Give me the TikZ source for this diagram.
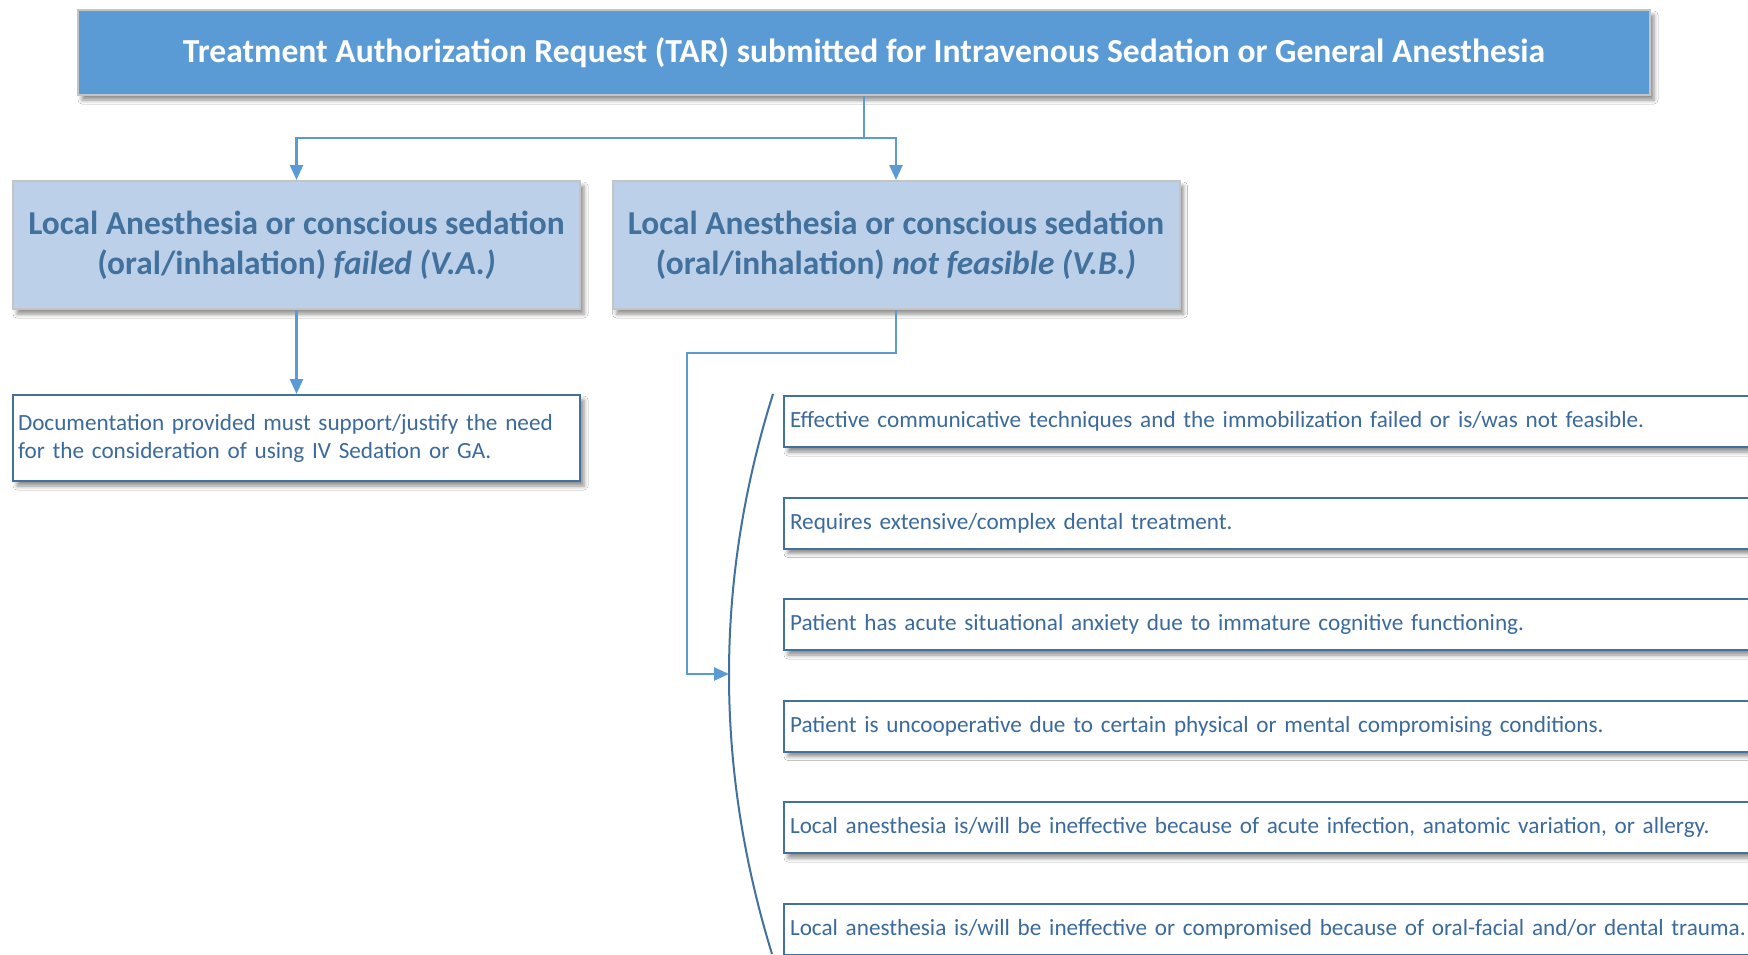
\documentclass[tikz,border=0pt]{standalone}
\usepackage{fontspec}
\setmainfont{Carlito}
\usetikzlibrary{arrows.meta,shadows.blur}
\definecolor{topblue}{HTML}{5B9BD5}
\definecolor{midfill}{HTML}{BDD0E9}
\definecolor{darkblue}{HTML}{41719C}
\definecolor{txtblue}{HTML}{3B6A9C}
\definecolor{boxgray}{HTML}{C4C4C4}
\begin{document}
\begin{tikzpicture}[x=1pt,y=-1pt,
  softshadow/.style={blur shadow={shadow xshift=4pt, shadow yshift=-5pt, shadow blur radius=4pt, shadow opacity=45}},
  topbox/.style={draw=boxgray, line width=2pt, fill=topblue, text=white,
    font=\fontsize{33.6}{40}\selectfont\bfseries, minimum width=1572pt, minimum height=85pt,
    inner sep=0pt, softshadow},
  midbox/.style={draw=boxgray, line width=2pt, fill=midfill, text=darkblue,
    font=\fontsize{33.4}{40}\selectfont\bfseries, minimum width=567pt, minimum height=128pt,
    align=center, inner sep=0pt, softshadow},
  docbox/.style={draw=darkblue, line width=2pt, fill=white, text=txtblue,
    font=\fontsize{23.2}{28}\selectfont, minimum height=86pt, text width=557pt,
    align=left, inner xsep=5pt, inner ysep=0pt, softshadow},
  itembox/.style={draw=darkblue, line width=2pt, fill=white, text=txtblue,
    font=\fontsize{23.2}{27}\selectfont, minimum height=51pt, text width=970pt,
    align=left, inner xsep=6pt, inner ysep=0pt, anchor=north west, softshadow},
  conn/.style={draw=topblue, line width=2.5pt, -{Triangle[width=13pt,length=15pt]}},
  bracketline/.style={draw=darkblue, line width=2pt}]
\useasboundingbox (0,0) rectangle (1748,954);
\clip (0,0) rectangle (1748,954);
\fill[white] (0,0) rectangle (1748,954);

\node[topbox] (top) at (864,52.5) {Treatment Authorization Request (TAR) submitted for Intravenous Sedation or General Anesthesia};

\node[midbox] (va) at (296.5,245) {Local Anesthesia or conscious sedation\\(oral/inhalation) \textit{failed (V.A.)}};
\node[midbox] (vb) at (896,245) {Local Anesthesia or conscious sedation\\(oral/inhalation) \textit{not feasible (V.B.)}};

\node[docbox] (doc) at (296.5,438) {Documentation provided must support/justify the need\\for the consideration of using IV Sedation or GA.};

\node[itembox] (i1) at (783,395) {Effective communicative techniques and the immobilization failed or is/was not feasible.};
\node[itembox] (i2) at (783,496.5) {Requires extensive/complex dental treatment.};
\node[itembox] (i3) at (783,598) {Patient has acute situational anxiety due to immature cognitive functioning.};
\node[itembox] (i4) at (783,699.5) {Patient is uncooperative due to certain physical or mental compromising conditions.};
\node[itembox] (i5) at (783,801) {Local anesthesia is/will be ineffective because of acute infection, anatomic variation, or allergy.};
\node[itembox] (i6) at (783,902.5) {Local anesthesia is/will be ineffective or compromised because of oral-facial and/or dental trauma.};

\coordinate (b1) at (773,394);
\coordinate (b2) at (772,954);
\coordinate (bk) at (729,674);
\draw[bracketline] (b1) .. controls (714.5,580) and (714.5,767) .. (b2);

\draw[conn] (top.south) -- ++(0,42) -| (va.north);
\draw[conn] (top.south) -- ++(0,42) -| (vb.north);
\draw[conn] (va.south) -- (doc.north);
\draw[conn] (vb.south) -- ++(0,43) -- ++(-209,0) |- (bk);
\end{tikzpicture}
\end{document}
